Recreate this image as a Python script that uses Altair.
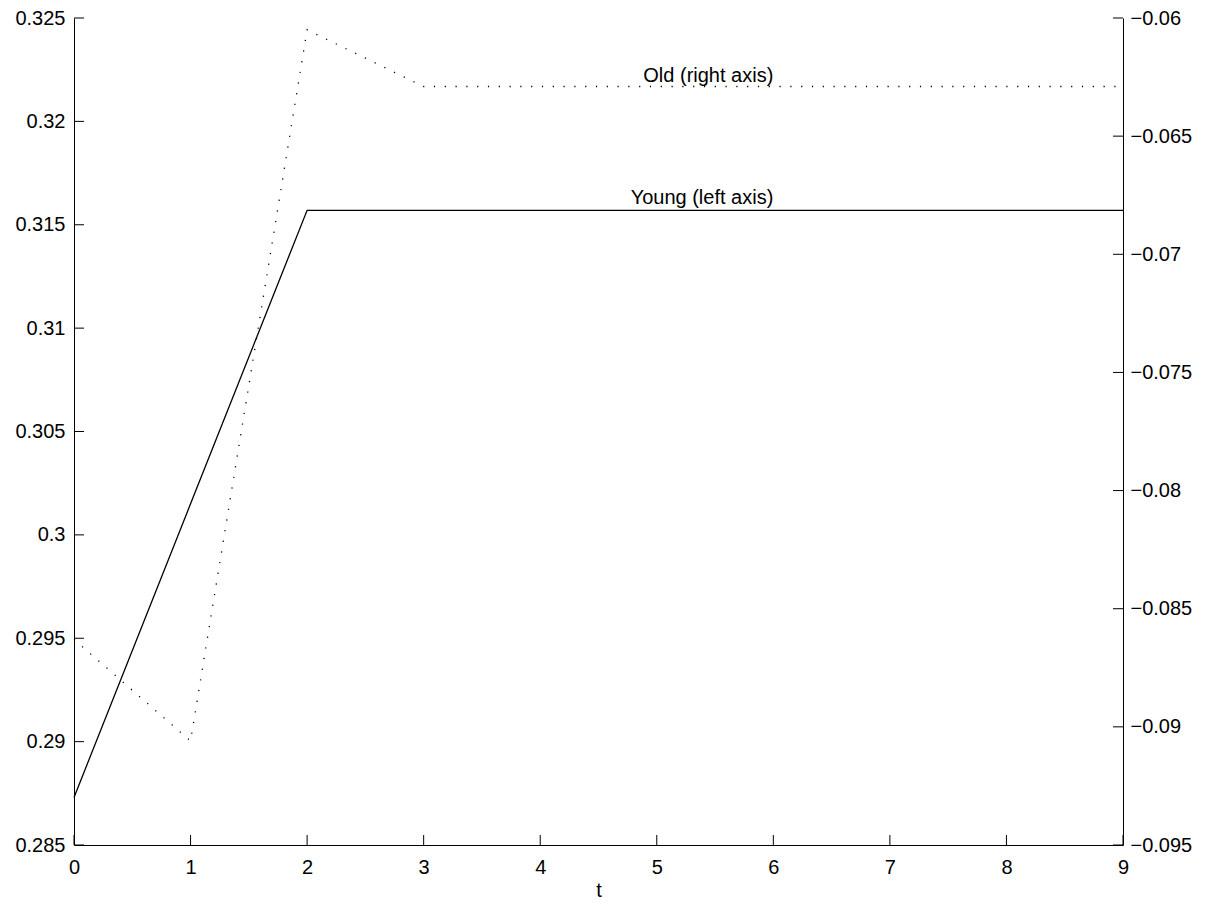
import altair as alt
import pandas as pd

# Periods and the two series (young on the left axis, old on the right axis)
t = [0, 1, 2, 3, 4, 5, 6, 7, 8, 9]
young = [0.2873, 0.3015, 0.3157, 0.3157, 0.3157, 0.3157, 0.3157, 0.3157, 0.3157, 0.3157]
old = [-0.0863, -0.0906, -0.0605, -0.0629, -0.0629, -0.0629, -0.0629, -0.0629, -0.0629, -0.0629]

# Tick values for each axis
x_ticks = [0, 1, 2, 3, 4, 5, 6, 7, 8, 9]
left_ticks = [0.285, 0.29, 0.295, 0.3, 0.305, 0.31, 0.315, 0.32, 0.325]
right_ticks = [-0.095, -0.09, -0.085, -0.08, -0.075, -0.07, -0.065, -0.06]

# Series labels: text, anchor period, value on its own axis
young_label = ["Young (left axis)"]
old_label = ["Old (right axis)"]
label_t = [6, 6]

W, H = 1049, 827
FONT = "Liberation Sans"
FS = 20
TICK = 10

df = pd.DataFrame({"t": t, "young": young, "old": old})
xt = pd.DataFrame({"t": x_ticks})
lt = pd.DataFrame({"young": left_ticks})
rt = pd.DataFrame({"old": right_ticks})
ylab = pd.DataFrame({"t": [label_t[0]], "young": [young[-1]], "label": young_label})
olab = pd.DataFrame({"t": [label_t[1]], "old": [old[-1]], "label": old_label})

x_scale = alt.Scale(domain=[0, 9], nice=False, zero=False)
left_scale = alt.Scale(domain=[0.285, 0.325], nice=False, zero=False)
right_scale = alt.Scale(domain=[-0.095, -0.06], nice=False, zero=False)

x_axis = alt.Axis(values=x_ticks, format="d", title="t", tickSize=0, labelPadding=12,
                  labelFlush=False, titlePadding=3, titleFontWeight="normal",
                  titleFontSize=FS)

young_line = alt.Chart(df).mark_line(color="black", strokeWidth=1.3).encode(
    x=alt.X("t:Q", scale=x_scale, axis=x_axis),
    y=alt.Y("young:Q", scale=left_scale,
            axis=alt.Axis(values=left_ticks, format=".3~f", orient="left",
                          tickSize=0, labelPadding=9, labelFlush=False, title=None)),
)
young_text = alt.Chart(ylab).mark_text(
    align="right", baseline="alphabetic", dy=-6, font=FONT, fontSize=FS, color="black"
).encode(
    x=alt.X("t:Q", scale=x_scale),
    y=alt.Y("young:Q", scale=left_scale),
    text="label:N",
)
left_tick_marks = alt.Chart(lt).mark_rule(color="black", strokeWidth=1).encode(
    y=alt.Y("young:Q", scale=left_scale),
    x=alt.value(0), x2=alt.value(TICK),
)
bottom_tick_marks = alt.Chart(xt).mark_rule(color="black", strokeWidth=1).encode(
    x=alt.X("t:Q", scale=x_scale),
    y=alt.value(H - TICK), y2=alt.value(H),
)

old_line = alt.Chart(df).mark_line(
    color="black", strokeWidth=1.3, strokeDash=[1.2, 9.6]
).encode(
    x=alt.X("t:Q", scale=x_scale),
    y=alt.Y("old:Q", scale=right_scale,
            axis=alt.Axis(values=right_ticks, format=".3~f", orient="right",
                          tickSize=0, labelPadding=7, labelFlush=False, title=None)),
)
old_text = alt.Chart(olab).mark_text(
    align="right", baseline="alphabetic", dy=-5, font=FONT, fontSize=FS, color="black"
).encode(
    x=alt.X("t:Q", scale=x_scale),
    y=alt.Y("old:Q", scale=right_scale),
    text="label:N",
)
right_tick_marks = alt.Chart(rt).mark_rule(color="black", strokeWidth=1).encode(
    y=alt.Y("old:Q", scale=right_scale),
    x=alt.value(W - TICK), x2=alt.value(W),
)

left_group = alt.layer(young_line, young_text, left_tick_marks, bottom_tick_marks)
right_group = alt.layer(old_line, old_text, right_tick_marks)

chart = alt.layer(left_group, right_group).resolve_scale(y="independent").properties(
    width=W,
    height=H,
    padding={"left": 74, "top": 18, "right": 1215 - 74 - W, "bottom": 909 - 18 - H},
    autosize=alt.AutoSizeParams(type="none"),
    background="white",
).configure_view(stroke=None).configure_axis(
    grid=False,
    domainColor="black",
    domainWidth=1,
    labelFont=FONT,
    labelFontSize=FS,
    labelColor="black",
    titleFont=FONT,
    titleColor="black",
)

chart.save("out.html", embed_options={"renderer": "svg", "actions": False})
